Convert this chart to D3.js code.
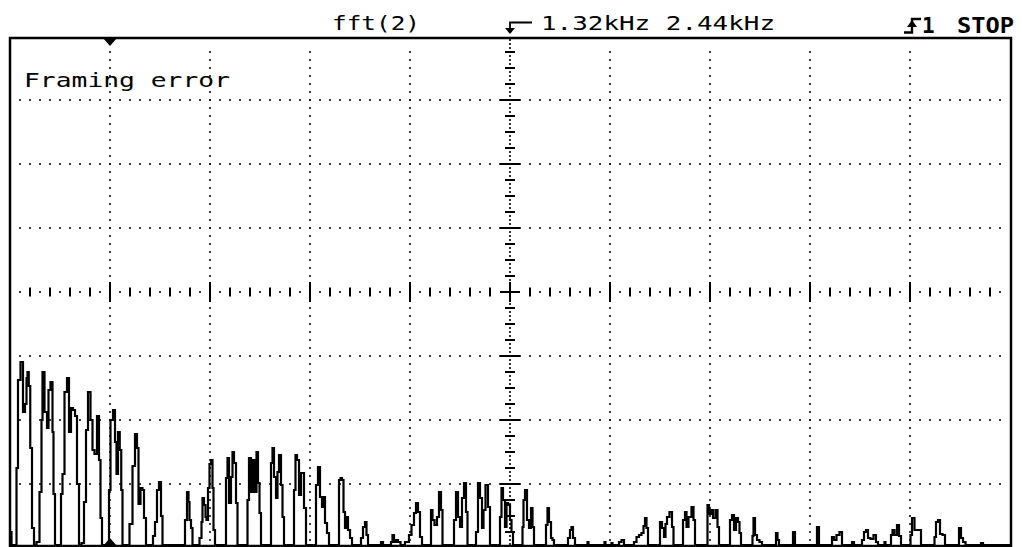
<!DOCTYPE html>
<html>
<head>
<meta charset="utf-8">
<script src="https://cdn.jsdelivr.net/npm/d3@7"></script>
<style>
  html, body { margin: 0; padding: 0; background: #fff; }
  svg { display: block; }
  .lbl { font-family: "DejaVu Sans Mono", monospace; font-size: 19px; fill: #000; }
  .bold { font-family: "DejaVu Sans Mono", monospace; font-weight: bold; font-size: 21px; fill: #000; }
</style>
</head>
<body>
<svg id="scope" width="1022" height="547"></svg>
<script>
// Spectrum trace: [bin, level] (1000 bins across, 256 levels up)
const spectrum = [
  [0, 8], [3, 1.5], [6, 1.5], [7, 40], [9, 84], [12, 93], [14, 68], [16, 72], [17, 85], [18, 88], [19.5, 81], [21, 50], [23, 10], [25, 1.5],
  [28, 3], [31, 28], [32, 64], [33, 88], [36, 68], [38, 60], [39, 79], [42, 83], [43, 58], [44, 27], [46, 1.5],
  [50, 1.5], [52, 27], [53, 37], [56, 78], [58, 85], [60, 58], [62, 70], [64, 69], [66, 66], [68, 32], [70, 1.5],
  [73, 2.5], [75, 23], [77, 59], [79, 78], [82, 64], [83, 49], [86, 47], [88, 66], [90, 44], [91, 15], [93, 1.5],
  [98, 1.5], [100, 29], [101, 64], [102, 64], [104, 69], [106, 53], [107, 37], [109, 58], [110.5, 49], [112, 29], [113, 1.5],
  [118, 1.5], [121, 12], [124, 41], [126, 57], [128, 50], [129, 22], [132, 30], [133, 29], [135, 15], [137, 1.5],
  [142, 1.5], [144, 6], [146, 13], [148, 29], [150, 33], [152, 16], [153, 1.5],
  [174, 1.5], [176, 14], [178, 28], [179, 23], [180, 14], [182, 10], [183, 1.5],
  [188, 1.5], [191, 5], [192, 13], [193, 25], [195, 21.5], [196, 15.5], [197, 14], [199, 30], [200, 42], [202, 44], [203, 30], [204, 9], [206, 1.5],
  [215, 1.5], [217, 35], [218, 45], [220, 22.5], [222, 35.5], [223, 48], [225, 42.5], [227, 22.5], [228, 1.5],
  [237, 1.5], [238, 24], [240, 45], [242, 28], [243, 44], [246, 28], [247, 48], [249, 32.5], [250, 17.5], [252, 1.5],
  [260, 1.5], [262, 42.5], [263, 50], [265, 35.5], [267, 25], [268, 38], [270, 46.5], [272, 31.5], [273, 15.5], [275, 1.5],
  [283, 1.5], [285, 29], [286, 46.5], [288, 44], [290, 26.5], [292, 37.5], [293, 37.5], [295, 20], [297, 1.5],
  [305, 1.5], [307, 31.5], [309, 40.5], [311, 25.5], [313, 20.5], [314, 25.5], [316, 12.5], [318, 7.5], [320, 1.5],
  [328, 1.5], [330, 34], [331, 35], [333, 34], [334, 18], [336, 10], [337, 15.5], [339, 9], [341, 5], [343, 1.5],
  [350, 1.5], [352, 5], [354, 10.5], [356, 13], [357, 6.5], [359, 1.5],
  [370, 1.5], [372, 3], [374, 1.5],
  [380, 1.5], [382, 3], [383, 6.5], [385, 3], [387, 4], [389, 3], [392, 1.5],
  [398, 3], [400, 6.5], [403, 11.5], [405, 17.5], [407, 22.5], [409, 18], [411, 5.5], [413, 1.5],
  [420, 1.5], [422, 19], [423, 14], [426, 11.5], [428, 15.5], [430, 28], [432, 19], [433, 1.5],
  [443, 1.5], [445, 14], [447, 28], [449, 15.5], [451, 10.5], [453, 25], [455, 32.5], [457, 18], [458, 1.5],
  [465, 1.5], [467, 8], [469, 32.5], [471, 25], [473, 10], [474, 19], [477, 31.5], [479, 20.5], [481, 1.5],
  [489, 1.5], [491, 15.5], [492, 30], [494, 24], [496, 10.5], [497, 22.5], [499, 21.5], [501, 14], [502, 8], [504, 1.5],
  [512, 1.5], [513, 10.5], [514, 24], [516, 29], [518, 14], [520, 10], [522, 20], [523, 10.5], [525, 1.5],
  [535, 1.5], [537, 11.5], [538, 20], [540, 13], [542, 5], [543, 4], [545, 1.5],
  [557, 1.5], [559, 5], [561, 9], [562, 10.5], [564, 5], [566, 1.5],
  [577, 1.5], [578, 3], [579, 1.5], [594, 1.5], [595, 3], [596, 1.5], [601, 1.5], [602, 2.5], [603, 1.5],
  [608, 1.5], [610, 3], [613, 4], [615, 1.5],
  [623, 1.5], [625, 3], [628, 5.5], [630, 6.5], [633, 7.5], [634, 11], [636, 15], [637, 10], [639, 1.5],
  [649, 1.5], [651, 13], [653, 10], [655, 5.5], [656, 12], [658, 15.5], [661, 18], [663, 10.5], [664, 1.5],
  [672, 1.5], [674, 14], [676, 18], [677, 10.5], [680, 15.5], [683, 20.5], [684, 14], [686, 1.5],
  [697, 1.5], [698, 21.5], [700, 17], [702, 19], [704, 15], [707, 19], [708, 10.5], [710, 1.5],
  [719, 1.5], [721, 14], [723, 16.5], [725, 9], [727, 15], [729, 13], [730, 7.5], [732, 1.5],
  [742, 1.5], [743, 6], [744, 15], [746, 6.5], [748, 4], [751, 3], [753, 1.5],
  [765, 1.5], [767, 7.5], [768, 4], [770, 1.5],
  [782, 1.5], [784, 8], [786, 1.5],
  [806, 1.5], [808, 10.5], [810, 1.5],
  [821, 1.5], [823, 5.5], [825, 4], [828, 6.5], [831, 8], [833, 1.5],
  [841, 1.5], [843, 3], [845, 1.5],
  [851, 1.5], [853, 4], [855, 8], [857, 9], [859, 5], [862, 4.5], [865, 6.5], [867, 3], [869, 1.5],
  [874, 1.5], [875, 3], [876, 1.5],
  [880, 1.5], [882, 6.5], [883, 9], [886, 6.5], [888, 11.5], [890, 6], [892, 1.5],
  [900, 1.5], [901, 6.5], [903, 15], [906, 9], [908, 9], [910, 9], [912, 1.5],
  [924, 1.5], [925, 5.5], [927, 13], [929, 14], [931, 7], [934, 6.5], [936, 1.5],
  [948, 1.5], [950, 10], [952, 5], [954, 3], [957, 1.5],
  [970, 1.5], [972, 2.5], [974, 1.5],
  [1000, 1.5]
];

// Marker position (bin) and screen labels
const markerBin = 100;
const statusText = "Framing error";
const sourceText = "fft(2)";
const freqText = "1.32kHz 2.44kHz";
const trigChannel = "1";
const runState = "STOP";

const xDivs = d3.range(0, 11);   // 10 horizontal divisions
const yDivs = d3.range(0, 9);    // 8 vertical divisions

const svg = d3.select("#scope");
const x = d3.scaleLinear().domain([0, 1000]).range([10, 1010]);
const y = d3.scaleLinear().domain([0, 256]).range([548, 36]);
const binsPerDiv = 100, levelsPerDiv = 32;

const grid = svg.append("g").attr("class", "grid");
const cx = x(500), cy = y(128);

// Dotted horizontal lines
yDivs.slice(1, 8).filter((d) => d !== 4).forEach((d) => {
  const yy = y(d * levelsPerDiv);
  grid.selectAll(null)
    .data(d3.range(10, 1000, 10))
    .join("rect")
    .attr("x", (b) => x(b) - 0.9)
    .attr("y", yy - 0.9)
    .attr("width", 1.8)
    .attr("height", 1.8)
    .attr("fill", "#111");
});

// Dotted vertical lines
xDivs.slice(1, 10).filter((d) => d !== 5).forEach((d) => {
  const xx = x(d * binsPerDiv);
  grid.selectAll(null)
    .data(d3.range(4, 252, 4))
    .join("rect")
    .attr("x", xx - 0.9)
    .attr("y", (l) => y(l) - 0.9)
    .attr("width", 1.8)
    .attr("height", 1.8)
    .attr("fill", "#111");
});

// Center horizontal axis: ticks every 1/5 div, dots between
const hSteps = d3.range(10, 1000, 10).filter((b) => Math.abs(b - 500) > 10);
grid.selectAll(null)
  .data(hSteps)
  .join("rect")
  .attr("x", (b) => x(b) - (b % 20 === 0 ? 1 : 0.9))
  .attr("y", (b) => b % 100 === 0 ? cy - 10 : b % 20 === 0 ? cy - 4.5 : cy - 0.9)
  .attr("width", (b) => b % 20 === 0 ? 2 : 1.8)
  .attr("height", (b) => b % 100 === 0 ? 20 : b % 20 === 0 ? 9 : 1.8)
  .attr("fill", "#000");

// Center vertical axis: ticks every 1/4 div, dots between
const vSteps = d3.range(2, 256, 2).filter((l) => Math.abs(l - 128) > 4);
grid.selectAll(null)
  .data(vSteps)
  .join("rect")
  .attr("x", (l) => l % 32 === 0 ? cx - 10 : l % 8 === 0 ? cx - 5 : cx - 0.9)
  .attr("y", (l) => y(l) - (l % 8 === 0 ? 1 : 0.9))
  .attr("width", (l) => l % 32 === 0 ? 20 : l % 8 === 0 ? 10 : 1.8)
  .attr("height", (l) => l % 8 === 0 ? 2 : 1.8)
  .attr("fill", "#000");

// Center cross
grid.append("path")
  .attr("d", `M${cx - 10},${cy}H${cx + 10}M${cx},${cy - 10}V${cy + 10}`)
  .attr("stroke", "#000")
  .attr("stroke-width", 2);

// Spectrum trace
const line = d3.line()
  .x((d) => x(d[0]))
  .y((d) => y(d[1]))
  .curve(d3.curveStep);

svg.append("path")
  .datum(spectrum)
  .attr("fill", "none")
  .attr("stroke", "#000")
  .attr("stroke-width", 2.2)
  .attr("d", line);

// Frame
svg.append("rect")
  .attr("x", 10)
  .attr("y", 38)
  .attr("width", 1001)
  .attr("height", 508)
  .attr("fill", "none")
  .attr("stroke", "#000")
  .attr("stroke-width", 2.5);

// Markers top and bottom
const mx = x(markerBin);
svg.append("path")
  .attr("d", `M${mx - 7},38L${mx + 7},38L${mx},46Z`)
  .attr("fill", "#000");
svg.append("path")
  .attr("d", `M${mx - 7},546L${mx + 7},546L${mx},538Z`)
  .attr("fill", "#000");

// Header and status text (glyphs stretched to the scope's wide font)
svg.append("text").attr("class", "lbl")
  .attr("x", 24).attr("y", 87)
  .attr("textLength", 206).attr("lengthAdjust", "spacingAndGlyphs")
  .text(statusText);
svg.append("text").attr("class", "lbl")
  .attr("x", 332).attr("y", 30)
  .attr("textLength", 88).attr("lengthAdjust", "spacingAndGlyphs")
  .text(sourceText);
svg.append("text").attr("class", "lbl")
  .attr("x", 541).attr("y", 30)
  .attr("textLength", 234).attr("lengthAdjust", "spacingAndGlyphs")
  .text(freqText);

// Center frequency arrow
svg.append("path")
  .attr("d", `M532,22.5H${cx}V30`)
  .attr("fill", "none")
  .attr("stroke", "#000")
  .attr("stroke-width", 1.8);
svg.append("path")
  .attr("d", `M${cx - 5},28L${cx + 5},28L${cx},34Z`)
  .attr("fill", "#000");

// Trigger symbol + state
svg.append("path")
  .attr("d", "M904,32.5H912V19H921")
  .attr("fill", "none")
  .attr("stroke", "#000")
  .attr("stroke-width", 2.4);
svg.append("path")
  .attr("d", "M907,27L917,27L912,20Z")
  .attr("fill", "#000");
svg.append("text").attr("class", "bold")
  .attr("x", 922).attr("y", 33)
  .text(trigChannel);
svg.append("text").attr("class", "bold")
  .attr("x", 957).attr("y", 33)
  .attr("textLength", 57).attr("lengthAdjust", "spacingAndGlyphs")
  .text(runState);
</script>
</body>
</html>
